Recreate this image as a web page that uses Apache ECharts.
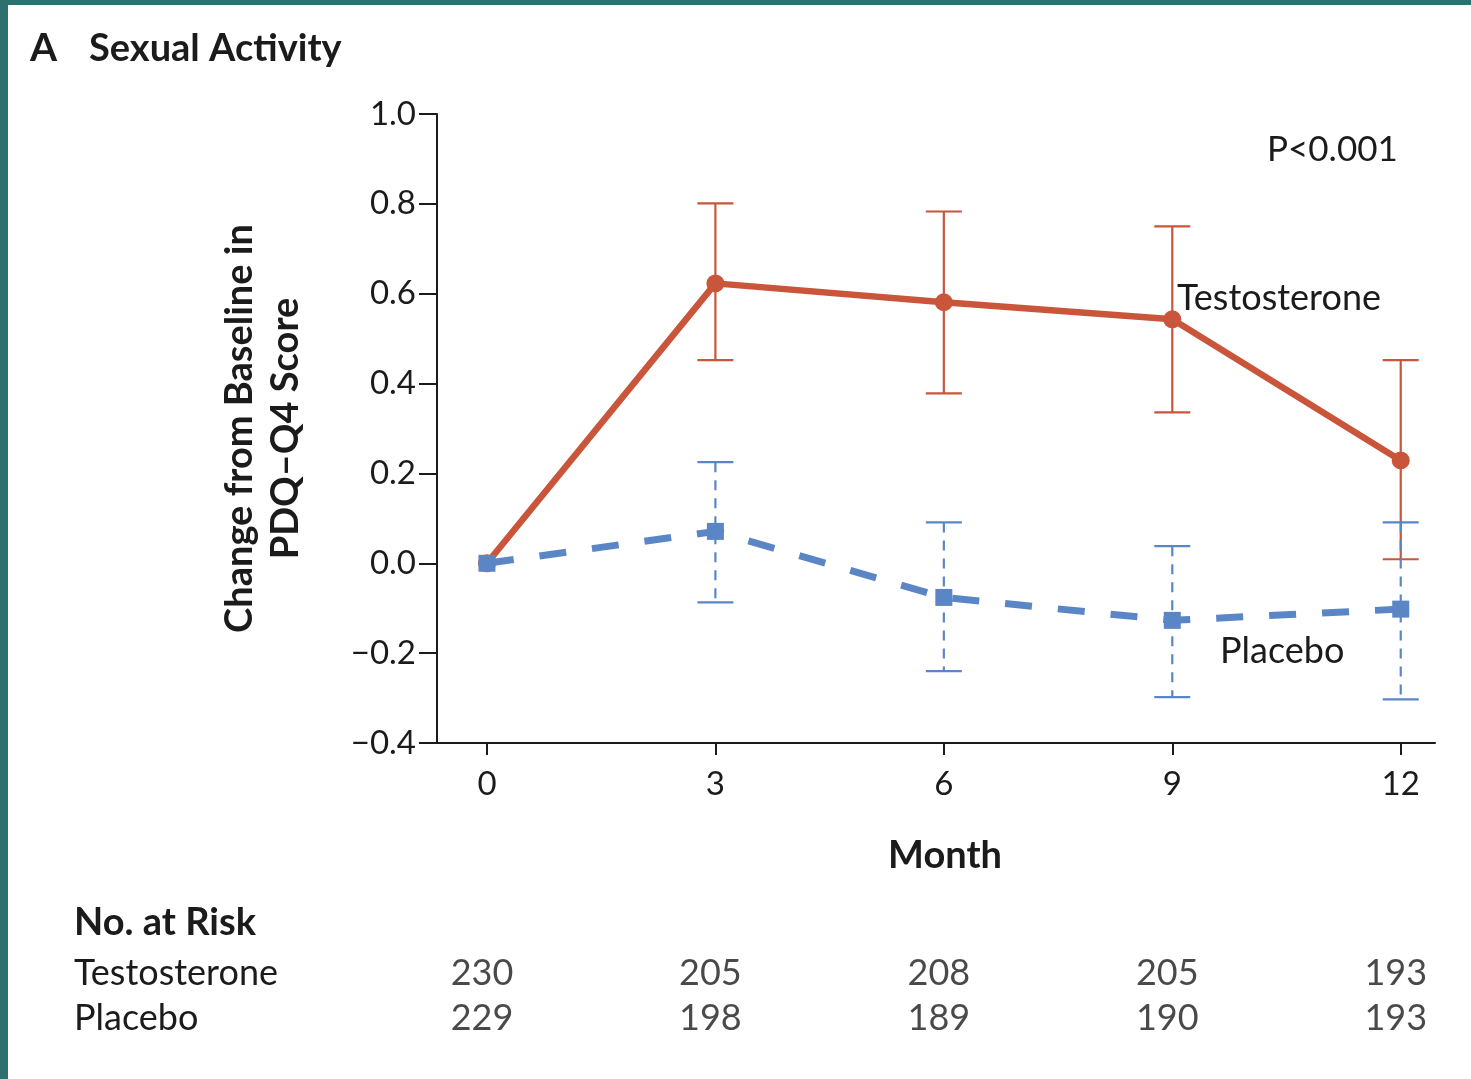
<!DOCTYPE html>
<html><head><meta charset="utf-8">
<script src="https://cdn.jsdelivr.net/npm/echarts@6/dist/echarts.min.js"></script>
<style>html,body{margin:0;padding:0;background:#fff;}#c{width:1471px;height:1079px;}</style>
</head><body><div id="c"></div>
<script>
const months = [0, 3, 6, 9, 12];
const testMean = [0, 0.623, 0.581, 0.543, 0.229];
const testLower = [null, 0.452, 0.378, 0.336, 0.009];
const testUpper = [null, 0.801, 0.783, 0.750, 0.452];
const placMean = [0, 0.071, -0.076, -0.127, -0.102];
const placLower = [null, -0.087, -0.240, -0.298, -0.303];
const placUpper = [null, 0.225, 0.091, 0.038, 0.091];
const riskRows = ['Testosterone', 'Placebo'];
const riskTest = [230, 205, 208, 205, 193];
const riskPlac = [229, 198, 189, 190, 193];

const RED = '#C9553B', BLUE = '#5B86C6', INK = '#1b1b1b';
const FONT = 'Lato, "Open Sans", sans-serif';

function errRender(color, dashed) {
  return function (params, api) {
    const x = api.value(0), lo = api.value(1), hi = api.value(2);
    const pHi = api.coord([x, hi]), pLo = api.coord([x, lo]);
    const hw = 18;
    return { type: 'group', children: [
      { type: 'line', shape: { x1: pHi[0], y1: pHi[1], x2: pLo[0], y2: pLo[1] },
        style: { stroke: color, lineWidth: 2.2, lineDash: dashed ? [10, 8] : null } },
      { type: 'line', shape: { x1: pHi[0] - hw, y1: pHi[1], x2: pHi[0] + hw, y2: pHi[1] },
        style: { stroke: color, lineWidth: 2.2 } },
      { type: 'line', shape: { x1: pLo[0] - hw, y1: pLo[1], x2: pLo[0] + hw, y2: pLo[1] },
        style: { stroke: color, lineWidth: 2.2 } }
    ] };
  };
}
function errData(lo, hi) {
  const d = [];
  months.forEach((m, i) => { if (lo[i] != null) d.push([m, lo[i], hi[i]]); });
  return d;
}

const chart = echarts.init(document.getElementById('c'), null, { renderer: 'canvas' });
chart.setOption({
  animation: false,
  backgroundColor: '#fff',
  textStyle: { fontFamily: FONT },
  grid: [
    { left: 437, right: 36, top: 114, bottom: 336 },
    { left: 437, right: 36, top: 951, height: 90 }
  ],
  xAxis: [
    { type: 'value', gridIndex: 0, min: -0.656, max: 12.45,
      axisLine: { onZero: false, lineStyle: { color: INK, width: 2 } },
      axisTick: { customValues: months, length: 12, lineStyle: { color: INK, width: 2 } },
      axisLabel: { customValues: months, color: INK, fontSize: 33, fontFamily: FONT, margin: 25 },
      splitLine: { show: false },
      name: 'Month', nameLocation: 'middle', nameGap: 94,
      nameTextStyle: { color: INK, fontSize: 38, fontWeight: 'bold', fontFamily: FONT, padding: [0, 0, 0, 18] } },
    { type: 'value', gridIndex: 1, min: -0.656, max: 12.45, show: false }
  ],
  yAxis: [
    { type: 'value', gridIndex: 0, min: -0.4, max: 1.0, interval: 0.2,
      axisLine: { show: true, onZero: false, lineStyle: { color: INK, width: 2 } },
      axisTick: { show: true, length: 18, lineStyle: { color: INK, width: 2 } },
      axisLabel: { color: INK, fontSize: 33, fontFamily: FONT, margin: 21,
        formatter: v => v.toFixed(1).replace('-', '\u2212') },
      splitLine: { show: false },
      name: 'Change from Baseline in\nPDQ\u2013Q4 Score', nameLocation: 'middle', nameRotate: 90, nameGap: 128,
      nameTextStyle: { color: INK, fontSize: 38, fontWeight: 'bold', fontFamily: FONT, lineHeight: 46 } },
    { type: 'category', gridIndex: 1, data: riskRows, inverse: true,
      axisLine: { show: false }, axisTick: { show: false }, splitLine: { show: false },
      axisLabel: { interval: 0, hideOverlap: false, align: 'left', margin: 363, color: INK, fontSize: 36, fontFamily: FONT } }
  ],
  series: [
    { type: 'line', name: 'Testosterone', xAxisIndex: 0, yAxisIndex: 0,
      data: months.map((m, i) => [m, testMean[i]]),
      lineStyle: { color: RED, width: 6.5 }, itemStyle: { color: RED },
      symbol: 'circle', symbolSize: 18, z: 3 },
    { type: 'custom', name: 'tErr', xAxisIndex: 0, yAxisIndex: 0,
      data: errData(testLower, testUpper), renderItem: errRender(RED, false), z: 4 },
    { type: 'line', name: 'Placebo', xAxisIndex: 0, yAxisIndex: 0,
      data: months.map((m, i) => [m, placMean[i]]),
      lineStyle: { color: BLUE, width: 7, type: [27, 26] }, itemStyle: { color: BLUE },
      symbol: 'rect', symbolSize: 17, z: 5 },
    { type: 'custom', name: 'pErr', xAxisIndex: 0, yAxisIndex: 0,
      data: errData(placLower, placUpper), renderItem: errRender(BLUE, true), z: 6 },
    { type: 'scatter', xAxisIndex: 1, yAxisIndex: 1, symbolSize: 0, silent: true,
      data: months.map((m, i) => [m, riskRows[0], riskTest[i]]),
      label: { show: true, position: 'inside', offset: [-5, 0], formatter: p => String(p.value[2]),
        color: INK, fontSize: 36, fontFamily: FONT } },
    { type: 'scatter', xAxisIndex: 1, yAxisIndex: 1, symbolSize: 0, silent: true,
      data: months.map((m, i) => [m, riskRows[1], riskPlac[i]]),
      label: { show: true, position: 'inside', offset: [-5, 0], formatter: p => String(p.value[2]),
        color: INK, fontSize: 36, fontFamily: FONT } }
  ],
  graphic: [
    { type: 'rect', left: 0, top: 0, shape: { width: 1471, height: 5 }, style: { fill: '#2E706F' }, silent: true },
    { type: 'rect', left: 0, top: 0, shape: { width: 8, height: 1079 }, style: { fill: '#2E706F' }, silent: true },
    { type: 'text', left: 30, top: 29, style: { text: 'A', font: 'bold 39px ' + FONT, fill: INK } },
    { type: 'text', left: 89, top: 30, style: { text: 'Sexual Activity', font: 'bold 38px ' + FONT, fill: INK } },
    { type: 'text', left: 1267, top: 132, style: { text: 'P<0.001', font: '35px ' + FONT, fill: INK } },
    { type: 'text', left: 1177, top: 280, style: { text: 'Testosterone', font: '36px ' + FONT, fill: INK } },
    { type: 'text', left: 1220, top: 633, style: { text: 'Placebo', font: '36px ' + FONT, fill: INK } },
    { type: 'text', left: 74, top: 904, style: { text: 'No. at Risk', font: 'bold 38px ' + FONT, fill: INK } }
  ]
});
</script></body></html>
